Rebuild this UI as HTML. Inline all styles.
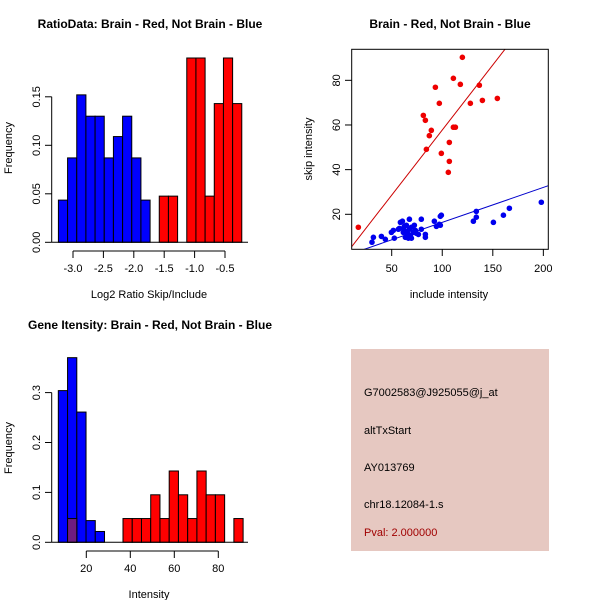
<!DOCTYPE html>
<html><head><meta charset="utf-8"><style>
html,body{margin:0;padding:0;background:#fff;width:600px;height:600px;overflow:hidden}
svg{display:block;font-family:"Liberation Sans",sans-serif}
</style></head><body>
<svg id="chart" width="600" height="600" viewBox="0 0 600 600" xmlns="http://www.w3.org/2000/svg">
<rect width="600" height="600" fill="#fff"/>
<g id="p1"></g>
<g id="p2"></g>
<g id="p3"></g>
<g id="p4">
<rect x="351" y="349" width="198" height="202" fill="#e6c8c1"/>
<text x="364" y="396" font-size="11">G7002583@J925055@j_at</text>
<text x="364" y="434" font-size="11">altTxStart</text>
<text x="364" y="471" font-size="11">AY013769</text>
<text x="364" y="508" font-size="11">chr18.12084-1.s</text>
<text x="364" y="536" font-size="11" fill="#a00000">Pval: 2.000000</text>
</g>
</svg>
<script>
// ---- Plot 1 data: log2 ratio histogram ----
var ratioBinStart = -3.24;
var ratioBinWidth = 0.1508;
var ratioBlueFreq = [0.0435,0.087,0.152,0.130,0.130,0.087,0.109,0.130,0.087,0.0435];
var ratioRedFreq = [0,0,0,0,0,0,0,0,0,0,0,0.0476,0.0476,0,0.190,0.190,0.0476,0.143,0.190,0.143];
var ratioXTicks = [-3.0,-2.5,-2.0,-1.5,-1.0,-0.5];
var ratioXTickLabels = ["-3.0","-2.5","-2.0","-1.5","-1.0","-0.5"];
var ratioYTicks = [0,0.05,0.10,0.15];
var ratioYTickLabels = ["0.00","0.05","0.10","0.15"];
// ---- Plot 2 data: scatter ----
var redInclude = [17.0,81.3,83.3,89.2,87.2,84.3,93.2,97.1,99.1,107.0,107.0,106.0,111.0,111.0,113.0,117.9,119.9,127.8,136.7,139.7,154.5];
var redSkip = [14.2,64.3,62.1,57.6,55.2,49.1,76.9,69.7,47.3,52.2,43.7,38.8,80.9,59.0,59.0,78.2,90.3,69.7,77.8,71.0,71.9];
var blueInclude = [30.5,31.9,39.8,43.7,49.7,51.6,52.6,56.6,57.6,58.6,60.6,61.5,62.5,63.5,63.5,64.5,65.5,66.5,67.5,67.5,68.5,69.5,69.5,71.4,72.4,73.4,74.4,76.4,79.3,79.3,83.3,83.3,92.2,94.2,97.1,98.1,99.1,98.1,133.7,130.8,133.7,150.6,160.5,166.4,198.0,61.5];
var blueSkip = [7.5,9.7,10.1,8.8,11.9,12.8,9.3,13.3,13.7,16.4,16.9,13.7,14.6,12.4,9.7,15.1,11.5,9.3,17.8,13.3,10.6,14.2,9.3,11.9,15.1,12.8,11.5,11.0,17.8,13.3,11.0,9.7,16.9,14.6,15.5,19.1,19.6,15.1,21.3,16.9,18.7,16.4,19.6,22.7,25.4,11.9];
var redFit = [-0.56,0.583];
var blueFit = [0.74,0.1565];
var scatterXTicks = [50,100,150,200];
var scatterYTicks = [20,40,60,80];
// ---- Plot 3 data: gene intensity histogram ----
var geneBinStart = 7.28;
var geneBinWidth = 4.2;
var geneBlueFreq = [0.304,0.370,0.261,0.0435,0.0217];
var geneRedFreq = [0,0.0476,0,0,0,0,0,0.0476,0.0476,0.0476,0.0952,0.0476,0.1429,0.0952,0.0476,0.1429,0.0952,0.0952,0,0.0476];
var geneXTicks = [20,40,60,80];
var geneYTicks = [0,0.1,0.2,0.3];
var geneYTickLabels = ["0.0","0.1","0.2","0.3"];

var NS="http://www.w3.org/2000/svg";
function mk(parent,tag,attrs,txt){var e=document.createElementNS(NS,tag);for(var k in attrs)e.setAttribute(k,attrs[k]);if(txt!==undefined)e.textContent=txt;parent.appendChild(e);return e;}
function line(g,x1,y1,x2,y2,c){return mk(g,'line',{x1:x1,y1:y1,x2:x2,y2:y2,stroke:c||'#000','stroke-width':1});}

// Plot 1
(function(){
 var g=document.getElementById('p1');
 function X(v){return 73+(v+3)*60.8;}
 function Y(v){return 242.3-v*970;}
 var t=mk(g,'text',{x:150,y:28,'font-size':12,'font-weight':'bold','text-anchor':'middle'},'RatioData: Brain - Red, Not Brain - Blue');
 
 for(var i=0;i<ratioBlueFreq.length;i++){var x0=X(ratioBinStart+i*ratioBinWidth),x1=X(ratioBinStart+(i+1)*ratioBinWidth);
  var r=mk(g,'rect',{x:x0,y:Y(ratioBlueFreq[i]),width:x1-x0,height:Y(0)-Y(ratioBlueFreq[i]),fill:'#0000ff',stroke:'#000','stroke-width':1});
  }
 for(var i=0;i<ratioRedFreq.length;i++){if(!ratioRedFreq[i])continue;var x0=X(ratioBinStart+i*ratioBinWidth),x1=X(ratioBinStart+(i+1)*ratioBinWidth);
  var r=mk(g,'rect',{x:x0,y:Y(ratioRedFreq[i]),width:x1-x0,height:Y(0)-Y(ratioRedFreq[i]),fill:'#ff0000',stroke:'#000','stroke-width':1});
  }
 line(g,51.7,Y(0),248,Y(0));
 line(g,51.7,Y(0),51.7,Y(0.15));
 ratioYTicks.forEach(function(v,i){line(g,45,Y(v),51.7,Y(v));var tt=mk(g,'text',{x:0,y:0,'font-size':11,'text-anchor':'middle',transform:'translate(40,'+Y(v)+') rotate(-90)'},ratioYTickLabels[i]);});
 line(g,X(-3),251,X(-0.5),251);
 ratioXTicks.forEach(function(v,i){line(g,X(v),251,X(v),258);var tt=mk(g,'text',{x:X(v),y:272,'font-size':11,'text-anchor':'middle'},ratioXTickLabels[i]);});
 var xl=mk(g,'text',{x:149,y:298,'font-size':11,'text-anchor':'middle'},'Log2 Ratio Skip/Include');
 var yl=mk(g,'text',{x:0,y:0,'font-size':11,'text-anchor':'middle',transform:'translate(12,148) rotate(-90)'},'Frequency');
})();

// Plot 2
(function(){
 var g=document.getElementById('p2');
 function X(v){return 391.7+(v-50)*1.011;}
 function Y(v){return 214.3-(v-20)*2.233;}
 var t=mk(g,'text',{x:450,y:28,'font-size':12,'font-weight':'bold','text-anchor':'middle'},'Brain - Red, Not Brain - Blue');
 
 var cp=mk(g,'clipPath',{id:'c2'});mk(cp,'rect',{x:351.7,y:49.3,width:196.6,height:200});
 var lg=mk(g,'g',{'clip-path':'url(#c2)'});
 var xa=0,xb=220;
 var rl=line(lg,X(xa),Y(redFit[0]+redFit[1]*xa),X(xb),Y(redFit[0]+redFit[1]*xb),'#cc0000');
 var bl=line(lg,X(xa),Y(blueFit[0]+blueFit[1]*xa),X(xb),Y(blueFit[0]+blueFit[1]*xb),'#0000cc');
 for(var i=0;i<redInclude.length;i++){var c=mk(g,'circle',{cx:X(redInclude[i]),cy:Y(redSkip[i]),r:2.8,fill:'#ee0000'});}
 for(var i=0;i<blueInclude.length;i++){var c=mk(g,'circle',{cx:X(blueInclude[i]),cy:Y(blueSkip[i]),r:2.8,fill:'#0000ee'});}
 var b=mk(g,'rect',{x:351.7,y:49.3,width:196.6,height:200,fill:'none',stroke:'#000','stroke-width':1});
 scatterXTicks.forEach(function(v){line(g,X(v),249.3,X(v),256);var tt=mk(g,'text',{x:X(v),y:272,'font-size':11,'text-anchor':'middle'},String(v));});
 scatterYTicks.forEach(function(v){line(g,345,Y(v),351.7,Y(v));var tt=mk(g,'text',{x:0,y:0,'font-size':11,'text-anchor':'middle',transform:'translate(340,'+Y(v)+') rotate(-90)'},String(v));});
 var xl=mk(g,'text',{x:449,y:298,'font-size':11,'text-anchor':'middle'},'include intensity');
 var yl=mk(g,'text',{x:0,y:0,'font-size':11,'text-anchor':'middle',transform:'translate(312,149) rotate(-90)'},'skip intensity');
})();

// Plot 3
(function(){
 var g=document.getElementById('p3');
 function X(v){return 86.3+(v-20)*2.2;}
 function Y(v){return 542.3-v*499;}
 var t=mk(g,'text',{x:150,y:329,'font-size':12,'font-weight':'bold','text-anchor':'middle'},'Gene Itensity: Brain - Red, Not Brain - Blue');
 
 for(var i=0;i<geneBlueFreq.length;i++){var x0=X(geneBinStart+i*geneBinWidth),x1=X(geneBinStart+(i+1)*geneBinWidth);
  var r=mk(g,'rect',{x:x0,y:Y(geneBlueFreq[i]),width:x1-x0,height:Y(0)-Y(geneBlueFreq[i]),fill:'#0000ff',stroke:'#000','stroke-width':1});
  }
 for(var i=0;i<geneRedFreq.length;i++){if(!geneRedFreq[i])continue;var x0=X(geneBinStart+i*geneBinWidth),x1=X(geneBinStart+(i+1)*geneBinWidth);
  var overlap=i<geneBlueFreq.length&&geneBlueFreq[i]>0;
  var r=mk(g,'rect',{x:x0,y:Y(geneRedFreq[i]),width:x1-x0,height:Y(0)-Y(geneRedFreq[i]),fill:overlap?'#701c80':'#ff0000',stroke:'#000','stroke-width':1});
  }
 line(g,51.7,Y(0),248,Y(0));
 line(g,51.7,Y(0),51.7,Y(0.3));
 geneYTicks.forEach(function(v,i){line(g,45,Y(v),51.7,Y(v));var tt=mk(g,'text',{x:0,y:0,'font-size':11,'text-anchor':'middle',transform:'translate(40,'+Y(v)+') rotate(-90)'},geneYTickLabels[i]);});
 line(g,X(20),551,X(80),551);
 geneXTicks.forEach(function(v){line(g,X(v),551,X(v),558);var tt=mk(g,'text',{x:X(v),y:572,'font-size':11,'text-anchor':'middle'},String(v));});
 var xl=mk(g,'text',{x:149,y:598,'font-size':11,'text-anchor':'middle'},'Intensity');
 var yl=mk(g,'text',{x:0,y:0,'font-size':11,'text-anchor':'middle',transform:'translate(12,448) rotate(-90)'},'Frequency');
})();
</script>
</body></html>
